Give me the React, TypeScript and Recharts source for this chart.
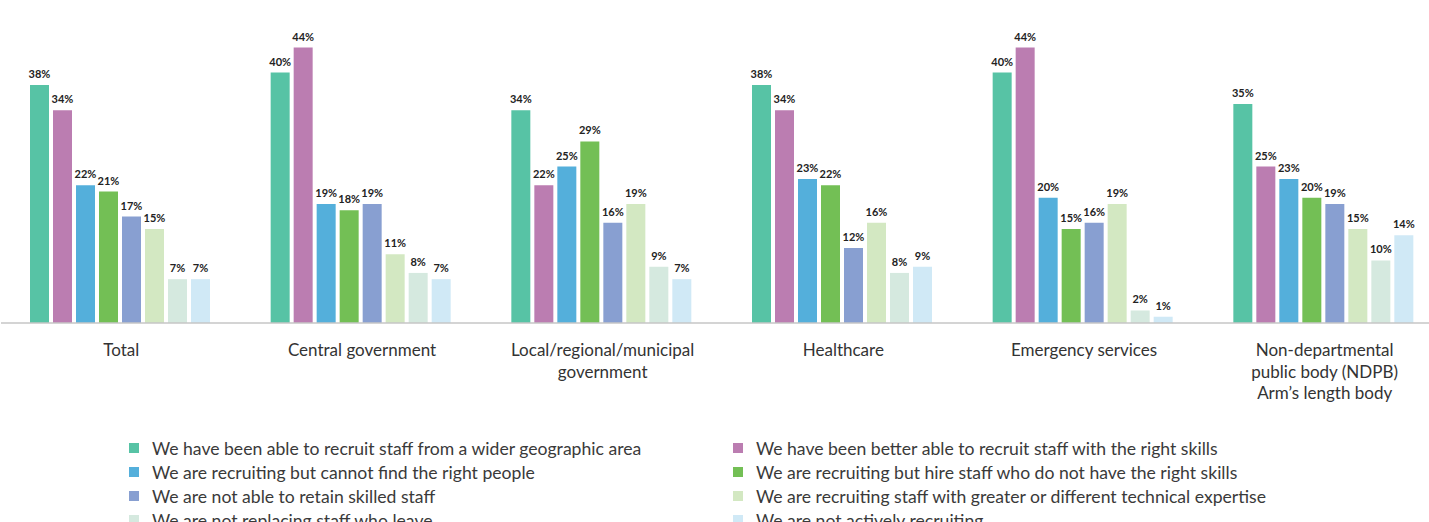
import React from 'react';
import { BarChart, Bar, XAxis, YAxis, Legend, LabelList } from 'recharts';

// sectors along the x axis
const categories = [
  'Total',
  'Central government',
  'Local/regional/municipal government',
  'Healthcare',
  'Emergency services',
  'Non-departmental public body (NDPB) Arm’s length body',
];

// how each tick label wraps
const tickLines = [
  ['Total'],
  ['Central government'],
  ['Local/regional/municipal', 'government'],
  ['Healthcare'],
  ['Emergency services'],
  ['Non-departmental', 'public body (NDPB)', 'Arm’s length body'],
];

// values in %, one per category
const widerArea = [38, 40, 34, 38, 40, 35];
const rightSkills = [34, 44, 22, 34, 44, 25];
const cannotFind = [22, 19, 25, 23, 20, 23];
const hireUnskilled = [21, 18, 29, 22, 15, 20];
const notRetain = [17, 19, 16, 12, 16, 19];
const technical = [15, 11, 19, 16, 19, 15];
const notReplacing = [7, 8, 9, 8, 2, 10];
const notRecruiting = [7, 7, 7, 9, 1, 14];

const series = [
  { key: 'widerArea', name: 'We have been able to recruit staff from a wider geographic area', color: '#57c3a5', values: widerArea },
  { key: 'rightSkills', name: 'We have been better able to recruit staff with the right skills', color: '#bb7db1', values: rightSkills },
  { key: 'cannotFind', name: 'We are recruiting but cannot find the right people', color: '#54afdb', values: cannotFind },
  { key: 'hireUnskilled', name: 'We are recruiting but hire staff who do not have the right skills', color: '#73bf55', values: hireUnskilled },
  { key: 'notRetain', name: 'We are not able to retain skilled staff', color: '#889fd1', values: notRetain },
  { key: 'technical', name: 'We are recruiting staff with greater or different technical expertise', color: '#d3e8c2', values: technical },
  { key: 'notReplacing', name: 'We are not replacing staff who leave', color: '#d5e9df', values: notReplacing },
  { key: 'notRecruiting', name: 'We are not actively recruiting', color: '#d0e9f6', values: notRecruiting },
];

const data = categories.map((name, i) => {
  const row: any = { name };
  series.forEach(s => { row[s.key] = s.values[i]; });
  return row;
});

const FONT = 'Lato, "Open Sans", sans-serif';

const SectorTick = (props: any) => {
  const { x, y, payload } = props;
  const lines = tickLines[categories.indexOf(payload.value)] || [payload.value];
  return (
    <text x={x} y={y} textAnchor="middle" fill="#333" fontSize={17} fontFamily={FONT}>
      {lines.map((line, i) => (
        <tspan key={i} x={x} dy={i === 0 ? 25 : 21.5}>{line}</tspan>
      ))}
    </text>
  );
};

const renderLegend = () => (
  <div style={{ display: 'grid', gridTemplateColumns: '604px 604px', paddingLeft: 129, fontFamily: FONT }}>
    {series.map(s => (
      <div key={s.key} style={{ display: 'flex', alignItems: 'center', height: 24 }}>
        <span style={{ width: 10, height: 10, background: s.color, marginRight: 13, flexShrink: 0 }} />
        <span style={{ fontSize: 17.6, color: '#3a3a3a', whiteSpace: 'nowrap' }}>{s.name}</span>
      </div>
    ))}
  </div>
);

export default function App() {
  return (
    <div style={{ position: 'absolute', left: 0, top: 0, width: 1429, height: 522, overflow: 'hidden', background: '#fff' }}>
      <BarChart
        width={1446}
        height={560}
        data={data}
        margin={{ top: 10, right: 1, left: 1, bottom: 31 }}
        barCategoryGap={29}
        barGap={4}
      >
        <XAxis
          dataKey="name"
          height={110}
          tickLine={false}
          axisLine={{ stroke: '#c6c6c6', strokeWidth: 1.5 }}
          tick={<SectorTick />}
          interval={0}
        />
        <YAxis hide domain={[0, 50]} />
        <Legend content={renderLegend} wrapperStyle={{ top: 436, left: 0, width: 1446 }} />
        {series.map(s => (
          <Bar key={s.key} dataKey={s.key} name={s.name} fill={s.color} isAnimationActive={false}>
            <LabelList
              dataKey={s.key}
              position="top"
              offset={7}
              formatter={(v: any) => `${v}%`}
              fill="#222"
              fontSize={11}
              fontWeight={700}
              fontFamily={FONT}
            />
          </Bar>
        ))}
      </BarChart>
    </div>
  );
}
